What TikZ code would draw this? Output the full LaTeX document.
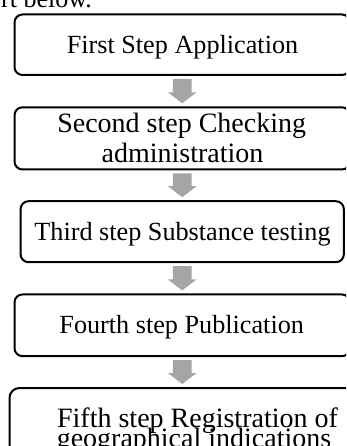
\documentclass[tikz,border=0pt]{standalone}
\usepackage{fontspec}
\setmainfont{Liberation Serif}
\usetikzlibrary{calc}
\definecolor{arrowgray}{RGB}{165,165,165}
\newcommand\flowarrow[2]{%
  \fill[flowarrow]
    ($(#1.south)+(-9.3,4)$) -- ($(#1.south)+(9.3,4)$) --
    ($(#1.south |- #2.north)+(9.3,-15)$) -- ($(#1.south |- #2.north)+(14.3,-15)$) --
    ($(#1.south |- #2.north)+(0,-4)$) --
    ($(#1.south |- #2.north)+(-14.3,-15)$) -- ($(#1.south |- #2.north)+(-9.3,-15)$) -- cycle;}
\begin{document}
\begin{tikzpicture}[x=1pt,y=-1pt,
  stepbox/.style={draw=black, line width=2pt, rounded corners=8pt, inner sep=0pt, outer sep=0pt},
  boxtext/.style={inner sep=0pt, anchor=base},
  smallfont/.style={font=\fontsize{26.2}{30}\selectfont},
  bigfont/.style={font=\fontsize{28}{30}\selectfont},
  flowarrow/.style={fill=arrowgray, draw=none}]
\useasboundingbox (0,0) rectangle (346,446);
\clip (0,0) rectangle (346,446);

\node[boxtext, anchor=base west, font=\fontsize{26}{30}\selectfont] (intro) at (1,7.3) {rt below.};

\node[stepbox, minimum width=335.4pt, minimum height=60.5pt] (b1) at (182.2,44.75) {};
\node[stepbox, minimum width=335.4pt, minimum height=62.2pt] (b2) at (182.2,138.4) {};
\node[stepbox, minimum width=323.3pt, minimum height=61pt] (b3) at (182.2,231.7) {};
\node[stepbox, minimum width=335.4pt, minimum height=61.7pt] (b4) at (182.2,325.3) {};
\node[stepbox, rounded corners=10pt, minimum width=373pt, minimum height=80pt] (b5) at (196,428) {};

\node[boxtext, smallfont] (t1) at (182.5,53.3) {First Step Application};
\node[boxtext, bigfont] (t2a) at (181.7,132.7) {Second step Checking};
\node[boxtext, bigfont] (t2b) at (182.5,162.7) {administration};
\node[boxtext, smallfont] (t3) at (182.5,240) {Third step Substance testing};
\node[boxtext, smallfont] (t4) at (181.7,333.3) {Fourth step Publication};
\node[boxtext, bigfont] (t5a) at (197.5,427.7) {Fifth step Registration of};
\node[boxtext, bigfont] (t5b) at (194,447) {geographical indications};

\flowarrow{b1}{b2}
\flowarrow{b2}{b3}
\flowarrow{b3}{b4}
\flowarrow{b4}{b5}
\end{tikzpicture}
\end{document}
